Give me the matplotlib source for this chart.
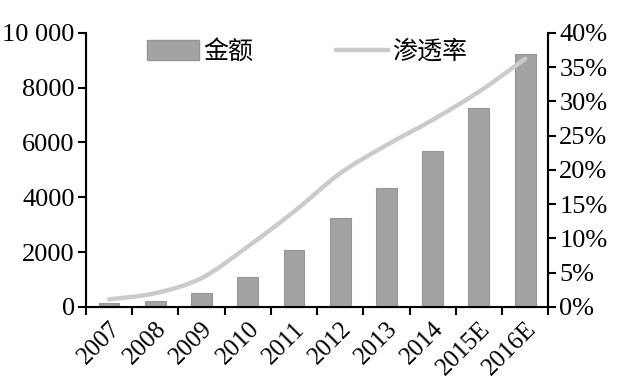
import matplotlib.pyplot as plt
import numpy as np
from matplotlib.patches import Patch, PathPatch
from matplotlib.path import Path
from matplotlib.lines import Line2D

plt.rcParams['font.family'] = ['Liberation Serif', 'Noto Sans CJK SC']

years = ['2007', '2008', '2009', '2010', '2011', '2012', '2013', '2014', '2015E', '2016E']
amount = [150, 220, 520, 1080, 2090, 3240, 4330, 5690, 7250, 9220]
rate = [1.1, 2.0, 4.2, 8.8, 13.9, 19.5, 23.6, 27.3, 31.4, 36.2]

bar_color = '#a3a3a3'
line_color = '#cbcbcb'


def smooth_path(xs, ys):
    # Catmull-Rom through the points, written as cubic Bezier segments
    pts = np.column_stack([xs, ys]).astype(float)
    verts = [pts[0]]
    codes = [Path.MOVETO]
    n = len(pts)
    for i in range(n - 1):
        p0 = pts[max(i - 1, 0)]
        p1 = pts[i]
        p2 = pts[i + 1]
        p3 = pts[min(i + 2, n - 1)]
        verts += [p1 + (p2 - p0) / 6, p2 - (p3 - p1) / 6, p2]
        codes += [Path.CURVE4] * 3
    return Path(verts, codes)


fig = plt.figure(figsize=(6.23, 3.86), dpi=100)
ax = fig.add_axes([0.138, 0.205, 0.742, 0.71])
x = np.arange(len(years))

ax.bar(x, amount, width=0.45, color=bar_color, edgecolor='#959595', linewidth=0.8, zorder=2)
ax.set_xlim(-0.5, 9.5)
ax.set_ylim(0, 10000)
ax.set_yticks([0, 2000, 4000, 6000, 8000, 10000])
ax.set_yticklabels(['0', '2000', '4000', '6000', '8000', '10 000'])

ax.set_xticks(x)
ax.set_xticklabels(years, rotation=45, ha='right', rotation_mode='anchor')
ax.tick_params(axis='x', which='major', length=0, labelsize=18, pad=8)
ax.set_xticks(np.arange(-0.5, 10, 1), minor=True)
ax.tick_params(axis='x', which='minor', length=6, width=1.5, direction='out')
ax.tick_params(axis='y', labelsize=19, length=6, width=1.5, direction='out', pad=2)

for s in ['left', 'bottom', 'right']:
    ax.spines[s].set_linewidth(1.5)
ax.spines['top'].set_visible(False)

ax2 = ax.twinx()
ax2.add_patch(PathPatch(smooth_path(x, rate), facecolor='none', edgecolor=line_color,
                        linewidth=3.2, capstyle='round', zorder=3))
ax2.set_ylim(0, 40)
ax2.set_yticks(range(0, 41, 5))
ax2.set_yticklabels([f'{v}%' for v in range(0, 41, 5)])
ax2.tick_params(axis='y', labelsize=19, length=6, width=1.5, direction='out', pad=2)
ax2.spines['top'].set_visible(False)
ax2.spines['right'].set_linewidth(1.5)

handles = [Patch(facecolor=bar_color, edgecolor='#959595'),
           Line2D([0], [0], color=line_color, linewidth=3.2)]
leg = ax2.legend(handles, ['金额', '渗透率'], ncol=2, loc='upper left',
                 bbox_to_anchor=(0.083, 1.06), frameon=False, fontsize=18,
                 handlelength=2.1, handleheight=0.85, handletextpad=0.15,
                 columnspacing=3.3)
for t in leg.get_texts():
    t.set_family(['Noto Sans CJK SC'])

fig.savefig('out.png', dpi=100)
